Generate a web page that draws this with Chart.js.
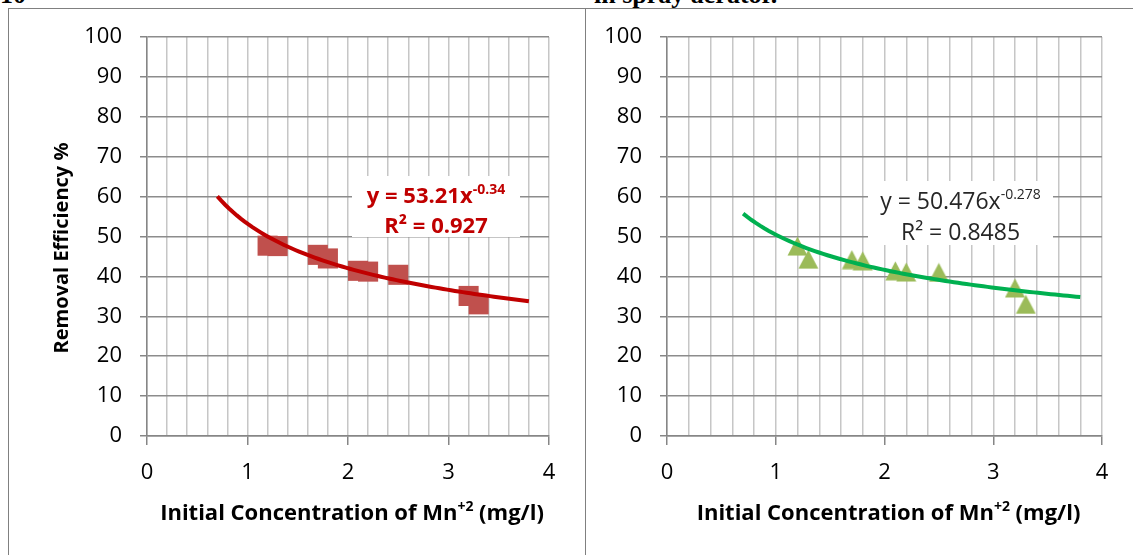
<!DOCTYPE html>
<html>
<head>
<meta charset="utf-8">
<script src="https://cdn.jsdelivr.net/npm/chart.js@4.4.1/dist/chart.umd.min.js"></script>
<style>
  body { margin: 0; background: #fff; }
  #page { position: relative; width: 1133px; height: 555px; overflow: hidden; background: #fff; }
  .panel { position: absolute; top: 8px; height: 560px; box-sizing: border-box; border: 1.5px solid #808080; }
  .head { position: absolute; top: -18px; font: bold 26px/26px "Liberation Serif", serif; color: #000; white-space: nowrap; }
  canvas { position: absolute; top: 0; }
</style>
</head>
<body>
<div id="page">
  <div class="head" style="left:0">10</div>
  <div class="head" style="left:594px">in spray aerator.</div>
  <div class="panel" style="left:8px; width:578px"></div>
  <div class="panel" style="left:585px; width:560px"></div>
  <canvas id="left" width="585" height="555" style="left:0"></canvas>
  <canvas id="right" width="548" height="555" style="left:585px"></canvas>
</div>
<script>
// initial Mn+2 concentration (mg/l)
const concentration = [1.2, 1.3, 1.7, 1.8, 2.1, 2.2, 2.5, 3.2, 3.3];
// removal efficiency (%)
const efficiencyLeft = [47.7, 47.6, 45.4, 44.5, 41.4, 41.2, 40.4, 35.1, 33.0];
const efficiencyRight = [47.6, 44.3, 44.2, 43.9, 41.4, 41.1, 41.0, 37.1, 33.0];

// power trendlines y = a * x^b
const fitLeft = [53.21, -0.34];
const fitRight = [50.476, -0.278];
const r2Left = '0.927';
const r2Right = '0.8485';
const fitRange = [0.7, 3.8];

const xRange = [0, 4];
const yRange = [0, 100];

const xTitle = ['Initial Concentration of Mn', '+2', ' (mg/l)'];
const yTitle = 'Removal Efficiency %';

const FONT = '"Open Sans", "Noto Sans", sans-serif';

function trendPoints(fit) {
  const pts = [];
  const n = 80;
  for (let i = 0; i <= n; i++) {
    const x = fitRange[0] + (fitRange[1] - fitRange[0]) * i / n;
    pts.push({ x: x, y: fit[0] * Math.pow(x, fit[1]) });
  }
  return pts;
}

// triangle marker centred on its bounding box
function triangleMarker(color) {
  const c = document.createElement('canvas');
  c.width = 21; c.height = 20;
  const g = c.getContext('2d');
  g.fillStyle = color;
  g.beginPath();
  g.moveTo(10.5, 0.5);
  g.lineTo(20.5, 19.5);
  g.lineTo(0.5, 19.5);
  g.closePath();
  g.fill();
  return c;
}

// text runs with superscripts, centred on cx
function drawRich(ctx, parts, cx, y, size, weight, color) {
  const supSize = Math.round(size * 0.62);
  let total = 0;
  const widths = parts.map(([t, sup]) => {
    ctx.font = weight + ' ' + (sup ? supSize : size) + 'px ' + FONT;
    const w = ctx.measureText(t).width;
    total += w;
    return w;
  });
  let x = cx - total / 2;
  ctx.fillStyle = color;
  ctx.textAlign = 'left';
  ctx.textBaseline = 'alphabetic';
  parts.forEach(([t, sup], i) => {
    ctx.font = weight + ' ' + (sup ? supSize : size) + 'px ' + FONT;
    ctx.fillText(t, x, sup ? y - size * 0.42 : y);
    x += widths[i];
  });
}

function textPlugin(cfg) {
  return {
    id: 'panelText',
    afterDatasetsDraw(chart) {
      const ctx = chart.ctx;
      const area = chart.chartArea;
      ctx.save();
      // equation box
      ctx.fillStyle = '#fff';
      ctx.fillRect(cfg.box[0], cfg.box[1], cfg.box[2], cfg.box[3]);
      const bx = cfg.box[0] + cfg.box[2] / 2;
      drawRich(ctx, [['y = ' + cfg.fit[0] + 'x', false], [String(cfg.fit[1]), true]],
        bx, cfg.eqY[0], cfg.eqSize, cfg.eqWeight, cfg.eqColor);
      drawRich(ctx, [['R² = ' + cfg.r2, false]], bx, cfg.eqY[1], cfg.eqSize, cfg.eqWeight, cfg.eqColor);
      // x axis title
      drawRich(ctx, xTitle.map((t, i) => [t, i === 1]), (area.left + area.right) / 2 + 4, 520, 22, 'bold', '#000');
      // y axis title
      if (cfg.yTitle) {
        ctx.translate(62, 248);
        ctx.rotate(-Math.PI / 2);
        ctx.font = 'bold 20px ' + FONT;
        ctx.fillStyle = '#000';
        ctx.textAlign = 'center';
        ctx.textBaseline = 'middle';
        ctx.fillText(yTitle, 0, 0);
      }
      ctx.restore();
    }
  };
}

function isWhole(v) { return Math.abs(v - Math.round(v)) < 1e-6; }

function makeChart(id, cfg) {
  return new Chart(document.getElementById(id), {
    type: 'scatter',
    data: {
      datasets: [{
        type: 'line',
        data: trendPoints(cfg.fit),
        borderColor: cfg.lineColor,
        borderWidth: 4,
        pointRadius: 0,
        tension: 0
      }, {
        data: concentration.map((x, i) => ({ x: x, y: cfg.values[i] })),
        pointStyle: cfg.marker,
        pointRadius: 14.2,
        backgroundColor: cfg.markerColor,
        borderWidth: 0
      }]
    },
    options: {
      responsive: false,
      animation: false,
      devicePixelRatio: 1,
      layout: { padding: { left: 0, top: 37, right: cfg.padRight, bottom: 0 } },
      plugins: { legend: { display: false }, tooltip: { enabled: false } },
      scales: {
        x: {
          type: 'linear',
          min: xRange[0], max: xRange[1],
          afterFit(s) { s.height = 119; },
          ticks: {
            stepSize: 0.2, autoSkip: false, maxRotation: 0, padding: 15,
            color: '#000', font: { family: FONT, size: 22 },
            callback: v => isWhole(v) ? Math.round(v) : ''
          },
          grid: {
            color: '#c6c6c6', lineWidth: 1.5, tickLength: 9,
            tickColor: c => (c.tick && isWhole(c.tick.value)) ? '#868686' : 'rgba(0,0,0,0)'
          },
          border: { color: '#868686', width: 1.5 }
        },
        y: {
          min: yRange[0], max: yRange[1],
          afterFit(s) { s.width = cfg.axisLeft; },
          ticks: { stepSize: 10, padding: 18, color: '#000', font: { family: FONT, size: 22 } },
          grid: { color: '#8c8c8c', lineWidth: 1.5, tickLength: 7, tickColor: '#868686' },
          border: { color: '#868686', width: 1.5 }
        }
      }
    },
    plugins: [textPlugin(cfg)]
  });
}

makeChart('left', {
  fit: fitLeft, r2: r2Left, values: efficiencyLeft,
  lineColor: '#c00000', marker: 'rect', markerColor: '#c0504d',
  axisLeft: 147, padRight: 36,
  box: [352, 176, 168, 61], eqY: [203, 233], eqSize: 22, eqWeight: 'bold', eqColor: '#c00000',
  yTitle: true
});

makeChart('right', {
  fit: fitRight, r2: r2Right, values: efficiencyRight,
  lineColor: '#00b050', marker: triangleMarker('#9bbb59'), markerColor: '#9bbb59',
  axisLeft: 82, padRight: 31,
  box: [283, 181, 185, 64], eqY: [209, 240], eqSize: 23, eqWeight: 'normal', eqColor: '#262626',
  yTitle: false
});
</script>
</body>
</html>
